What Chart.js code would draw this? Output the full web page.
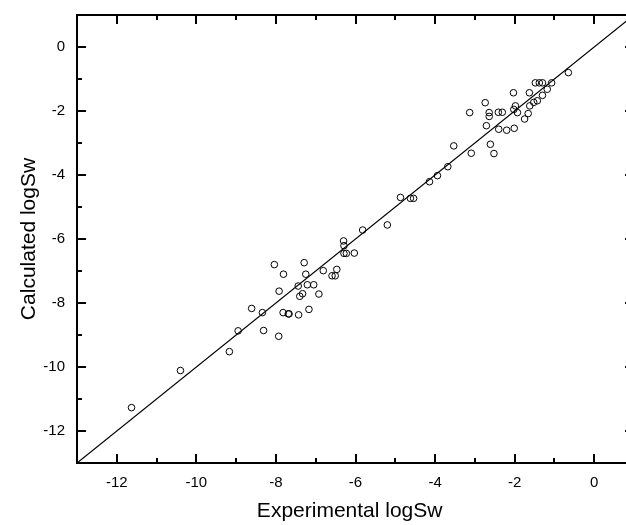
<!DOCTYPE html>
<html>
<head>
<meta charset="utf-8">
<script src="https://cdn.jsdelivr.net/npm/chart.js@4"></script>
<style>
 html,body{margin:0;padding:0;background:#fff;overflow:hidden}
 #wrap{width:626px;height:525px;overflow:hidden}
</style>
</head>
<body>
<!-- canvas is a bit wider than the window: the right frame of the plot sits just past the edge -->
<div id="wrap"><canvas id="c" width="640" height="525"></canvas></div>
<script>
/* experimental vs calculated logSw */
const expX=[-0.65,-1.48,-1.38,-1.30,-1.07,-2.03,-1.63,-1.18,-1.30,-2.74,-1.98,-1.43,-1.52,-1.62,-2.02,-1.93,-1.66,-1.75,
 -3.13,-2.64,-2.64,-2.41,-2.31,-2.71,-2.40,-2.20,-2.01,-2.61,-2.52,-3.09,-3.53,-3.68,-3.94,-4.14,-4.54,-4.62,-4.87,-5.20,
 -5.82,-6.30,-6.29,-6.29,-6.23,-6.03,-8.04,-7.29,-7.81,-7.25,-6.81,-6.47,-6.59,-6.51,-7.44,-7.21,-7.05,-7.92,-7.33,-7.40,
 -6.92,-8.61,-8.34,-7.82,-7.69,-7.67,-7.43,-7.17,-8.95,-8.31,-7.93,-9.17,-10.40,-11.63];
const calcY=[-0.80,-1.12,-1.12,-1.12,-1.12,-1.43,-1.43,-1.32,-1.51,-1.74,-1.84,-1.68,-1.73,-1.84,-1.95,-2.05,-2.08,-2.25,
 -2.05,-2.05,-2.17,-2.04,-2.04,-2.46,-2.57,-2.60,-2.54,-3.04,-3.33,-3.32,-3.09,-3.74,-4.02,-4.21,-4.73,-4.73,-4.70,-5.56,
 -5.72,-6.06,-6.21,-6.45,-6.45,-6.44,-6.80,-6.74,-7.10,-7.10,-6.99,-6.95,-7.15,-7.15,-7.47,-7.43,-7.43,-7.63,-7.71,-7.79,
 -7.72,-8.17,-8.30,-8.30,-8.34,-8.34,-8.37,-8.20,-8.87,-8.86,-9.04,-9.52,-10.11,-11.27];
const lineX=[-13,1];
const xTicks=[-12,-10,-8,-6,-4,-2,0];
const yTicks=[-12,-10,-8,-6,-4,-2,0];
const xMinor=[-13,-11,-9,-7,-5,-3,-1,1];
const yMinor=[-13,-11,-9,-7,-5,-3,-1,1];
const XMIN=-13,XMAX=1,YMIN=-13,YMAX=1;
const FF='"Liberation Sans", Arial, sans-serif';

const pts=expX.map(function(x,i){return{x:x,y:calcY[i]}});
const ln=lineX.map(function(x){return{x:x,y:x}});

function noPad(s){s.paddingTop=0;s.paddingBottom=0;s.paddingLeft=0;s.paddingRight=0}

// frame + inward ticks on all four sides
const frame={
 id:'frame',
 afterDraw:function(ch){
  var c=ch.ctx,a=ch.chartArea,xs=ch.scales.x,ys=ch.scales.y;
  c.save();c.strokeStyle='#000';c.lineWidth=2;c.lineCap='square';
  c.beginPath();
  c.moveTo(a.left,a.top);c.lineTo(a.right,a.top);
  c.moveTo(a.left,a.top);c.lineTo(a.left,a.bottom);
  c.moveTo(a.left,a.bottom);c.lineTo(a.right,a.bottom);
  c.moveTo(a.right,a.top);c.lineTo(a.right,a.bottom);
  c.stroke();
  c.lineCap='butt';
  function tx(v,L){var p=Math.round(xs.getPixelForValue(v));
   c.moveTo(p,a.bottom);c.lineTo(p,a.bottom-L);c.moveTo(p,a.top);c.lineTo(p,a.top+L)}
  function ty(v,L){var p=Math.round(ys.getPixelForValue(v));
   c.moveTo(a.left,p);c.lineTo(a.left+L,p);c.moveTo(a.right,p);c.lineTo(a.right-L,p)}
  c.beginPath();
  xTicks.forEach(function(v){tx(v,9)});xMinor.forEach(function(v){tx(v,5)});
  yTicks.forEach(function(v){ty(v,9)});yMinor.forEach(function(v){ty(v,5)});
  c.stroke();c.restore()
 }
};

new Chart(document.getElementById('c').getContext('2d'),{
 type:'scatter',
 data:{datasets:[
  {data:pts,pointRadius:3.3,pointHoverRadius:3.3,pointBorderWidth:1,pointBorderColor:'#000',
   pointBackgroundColor:'rgba(0,0,0,0)',showLine:false},
  {data:ln,showLine:true,pointRadius:0,borderColor:'#000',borderWidth:1.2}
 ]},
 options:{
  responsive:false,animation:false,
  layout:{padding:{top:15,right:6,left:0,bottom:0}},
  plugins:{legend:{display:false},tooltip:{enabled:false}},
  scales:{
   x:{type:'linear',min:XMIN,max:XMAX,
    afterBuildTicks:function(s){s.ticks=xTicks.map(function(v){return{value:v}})},
    afterFit:function(s){s.height=62;noPad(s)},
    grid:{display:false,drawTicks:false,tickLength:0},border:{display:false},
    ticks:{color:'#000',padding:11,font:{family:FF,size:15},maxRotation:0},
    title:{display:true,text:'Experimental logSw  ',color:'#000',font:{family:FF,size:21},padding:{top:0,bottom:1}}},
   y:{type:'linear',min:YMIN,max:YMAX,
    afterBuildTicks:function(s){s.ticks=yTicks.map(function(v){return{value:v}})},
    afterFit:function(s){s.width=77;noPad(s)},
    grid:{display:false,drawTicks:false,tickLength:0},border:{display:false},
    ticks:{color:'#000',padding:12,font:{family:FF,size:15}},
    title:{display:true,text:'Calculated logSw',color:'#000',font:{family:FF,size:21},padding:{top:17,bottom:0}}}
  }
 },
 plugins:[frame]
});
</script>
</body>
</html>
